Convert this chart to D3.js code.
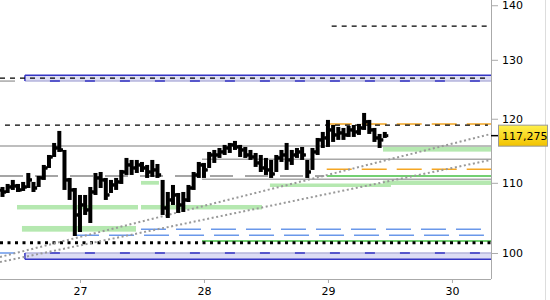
<!DOCTYPE html>
<html><head><meta charset="utf-8">
<script src="https://cdn.jsdelivr.net/npm/d3@7"></script>
<style>
body{margin:0;background:#fff}
text{font-family:"DejaVu Sans",sans-serif;font-size:11px;fill:#000}
</style>
</head><body>
<svg id="chart" width="550" height="300"></svg>
<script>
// hourly OHLC bars, first bar on the 26th at 09:00
const startHour = 26*24 + 9;
const highs = [109.38,109.83,110.43,109.83,110.13,111.48,110.13,111.03,112.70,114.24,
  116.12,118.03,115.02,110.73,109.23,108.20,108.20,109.38,111.48,111.63,
  110.73,110.43,110.73,111.94,113.78,113.47,113.47,113.16,112.70,113.47,
  112.85,110.43,108.64,109.68,108.49,108.64,109.68,111.63,113.16,113.01,
  114.71,115.02,115.33,115.81,116.12,116.44,115.81,115.49,115.02,114.55,
  114.24,113.78,113.47,114.24,115.02,116.12,115.02,115.33,115.49,113.47,
  115.33,116.91,117.87,119.81,118.99,118.67,118.51,118.83,118.99,119.16,
  120.95,119.81,118.51,117.55,117.87];
const lows = [107.91,108.49,108.94,108.64,108.79,109.23,108.64,109.38,110.43,112.24,
  113.93,114.71,108.94,107.47,102.34,102.89,105.30,104.16,108.20,109.23,
  107.47,108.49,108.94,109.83,111.18,111.18,111.48,111.63,110.73,110.88,
  110.73,105.30,104.87,106.74,105.59,105.73,107.17,108.94,110.73,110.73,
  112.24,113.01,113.78,114.24,114.55,115.02,113.93,113.78,113.47,112.40,
  111.63,111.18,110.73,111.63,113.16,111.94,112.70,113.78,113.47,110.73,
  111.94,114.24,115.33,115.49,116.28,116.60,116.60,117.07,117.07,117.39,
  118.19,117.55,116.28,115.33,116.91];
const closes = [108.64,109.38,109.53,108.94,109.38,110.43,109.23,110.73,112.24,113.93,
  115.33,115.02,110.43,108.94,105.30,106.74,106.02,108.64,110.73,110.43,
  108.20,109.68,110.13,111.63,112.70,112.24,112.70,112.24,111.63,111.94,
  111.18,106.31,107.47,108.20,106.74,107.47,109.23,111.18,112.70,111.94,
  114.24,114.24,114.71,115.33,115.81,115.49,115.02,114.24,113.93,113.01,
  112.24,111.94,111.33,113.78,114.24,113.47,114.24,114.71,114.24,111.63,
  114.71,116.60,116.91,118.19,117.39,117.71,117.39,118.19,117.87,118.51,
  119.50,118.19,116.91,116.60,117.275];
const firstOpen = 108.9;
const lastPrice = 117.275;

const yTicks = [100,110,120,130,140];
const xTicks = [27,28,29,30];
const xDomain = [26.355, 30.315];   // days of month
const yDomain = [96.53, 141.0];

// levels: [price, fromDay, toDay]
const blackDashed = [[126.8,26.355,30.29],[118.95,26.395,30.29],[136.1,29.03,30.29]];
const orangeDashed = [[119.15,28.99,30.315],[112.04,28.99,30.315]];
const graySolid = [[115.65,26.355,30.315],[113.58,27.984,30.315],[110.53,27.984,30.315],[126.3,26.355,26.476]];
const grayDashed = [[111.03,26.355,28.97]];
const greenLines = [[111.03,28.99,30.315],[101.64,27.984,30.315]];
const blueDashed = [[103.27,27.492,30.234],[102.43,26.952,30.258]];
const blueStub = [[100.0,26.355,26.476]];
const dottedBlack = [[101.41,26.355,30.315]];
// zones: [priceTop, priceBottom, fromDay, toDay]
const greenZones = [[106.74,106.09,26.492,27.468],[106.74,106.09,27.492,28.468],
  [110.28,109.72,27.492,27.637],[103.74,102.94,26.532,27.452],
  [109.90,109.38,28.532,29.508],[110.35,109.68,29.444,30.315],[115.54,114.76,29.444,30.315]];
const blueZones = [[127.3,126.3,26.556,30.315,"bottom"],[100.0,99.15,26.556,30.315,"top"]];
// trend lines: [day1, price1, day2, price2]
const trends = [[26.355,99.46,30.315,117.55],[26.355,98.78,30.315,113.48]];

const svg = d3.select("#chart");
const W = 491, H = 279;
const x = d3.scaleLinear().domain(xDomain).range([0, W]);
const y = d3.scaleLog().domain(yDomain).range([H, 0]);

const defs = svg.append("defs");
defs.append("clipPath").attr("id","plot").append("rect").attr("width",W).attr("height",H);
const grad = defs.append("linearGradient").attr("id","yel").attr("x1",0).attr("y1",0).attr("x2",0).attr("y2",1);
grad.append("stop").attr("offset","0%").attr("stop-color","#fff04a");
grad.append("stop").attr("offset","100%").attr("stop-color","#f2c200");

const g = svg.append("g").attr("clip-path","url(#plot)");

function hlines(data, stroke, width, dash){
  g.append("g").selectAll("line").data(data).join("line")
    .attr("x1",d=>x(d[1])).attr("x2",d=>x(d[2]))
    .attr("y1",d=>y(d[0])).attr("y2",d=>y(d[0]))
    .attr("stroke",stroke).attr("stroke-width",width)
    .attr("stroke-dasharray",dash||null);
}

// zones
g.append("g").selectAll("rect").data(greenZones).join("rect")
  .attr("x",d=>x(d[2])).attr("width",d=>x(d[3])-x(d[2]))
  .attr("y",d=>y(d[0])).attr("height",d=>y(d[1])-y(d[0]))
  .attr("fill","#b5e8b0");
blueZones.forEach(d=>{
  const x0=x(d[2]), x1=x(d[3]), yt=y(d[0]), yb=y(d[1]);
  g.append("rect").attr("x",x0).attr("y",yt).attr("width",x1-x0).attr("height",yb-yt).attr("fill","#dcdcf4");
  const soft = d[4]==="bottom" ? yb : yt, hard = d[4]==="bottom" ? yt : yb;
  g.append("line").attr("x1",x0).attr("x2",x1).attr("y1",hard).attr("y2",hard).attr("stroke","#3434c4").attr("stroke-width",1.5);
  g.append("line").attr("x1",x0).attr("x2",x1).attr("y1",soft).attr("y2",soft).attr("stroke","#b4b4dc").attr("stroke-width",1.5);
  g.append("line").attr("x1",x0).attr("x2",x1).attr("y1",soft).attr("y2",soft).attr("stroke","#3434c4").attr("stroke-width",1.5)
    .attr("stroke-dasharray","10,25").attr("stroke-dashoffset",10);
  g.append("line").attr("x1",x0).attr("x2",x0).attr("y1",yt).attr("y2",yb).attr("stroke","#3434c4").attr("stroke-width",1.5);
});

hlines(graySolid, "#a8a8a8", 1.5);
hlines(grayDashed, "#888", 1.5, "23,12");
hlines(greenLines, "#44c044", 1.5);
hlines(orangeDashed, "#f5a623", 1.5, "25,10");
hlines(blueDashed, "#6a98ea", 1.5, "25,10");
hlines(blueStub, "#6a98ea", 1.5);
hlines(dottedBlack, "#000", 3, "3,4.5");
hlines(blackDashed, "#000", 1.2, "5,5");

g.append("g").selectAll("line").data(trends).join("line")
  .attr("x1",d=>x(d[0])).attr("y1",d=>y(d[1])).attr("x2",d=>x(d[2])).attr("y2",d=>y(d[3]))
  .attr("stroke","#999").attr("stroke-width",2).attr("stroke-dasharray","2,2.6");

// price bars
const bars = closes.map((c,i)=>({t:(startHour+i)/24, h:highs[i], l:lows[i], o:i?closes[i-1]:firstOpen, c}));
const bg = g.append("g").attr("fill","#000");
bars.forEach(b=>{
  const cx = x(b.t), yh=y(b.h), yl=y(b.l);
  bg.append("rect").attr("x",cx-2).attr("width",4).attr("y",yh).attr("height",Math.max(1,yl-yh));
  bg.append("rect").attr("x",cx-3.5).attr("width",2).attr("y",y(b.o)-1.5).attr("height",3);
  bg.append("rect").attr("x",cx+1.5).attr("width",2).attr("y",y(b.c)-1.5).attr("height",3);
});

// axes frame
svg.append("line").attr("x1",W+0.5).attr("x2",W+0.5).attr("y1",0).attr("y2",H).attr("stroke","#aaa");
svg.append("line").attr("x1",0).attr("x2",W).attr("y1",H+0.5).attr("y2",H+0.5).attr("stroke","#aaa");
svg.append("line").attr("x1",545.5).attr("x2",545.5).attr("y1",0).attr("y2",300).attr("stroke","#ddd");

const yAxis = svg.append("g").attr("transform",`translate(${W},0)`)
  .call(d3.axisRight(y).tickValues(yTicks).tickFormat(d3.format("d")).tickSize(7).tickPadding(4));
yAxis.select(".domain").remove();
yAxis.selectAll(".tick line").attr("stroke","#aaa");
yAxis.selectAll("text").style("font-family",'"DejaVu Sans",sans-serif').style("font-size","11px");

const xAxis = svg.append("g").attr("transform",`translate(0,${H})`)
  .call(d3.axisBottom(x).tickValues(xTicks).tickFormat(d3.format("d")).tickSize(4).tickPadding(4));
xAxis.select(".domain").remove();
xAxis.selectAll(".tick line").attr("stroke","#aaa");
xAxis.selectAll("text").style("font-family",'"DejaVu Sans",sans-serif').style("font-size","11px");

// last price marker
const ly = y(lastPrice);
svg.append("line").attr("x1",W).attr("x2",W+7).attr("y1",ly).attr("y2",ly).attr("stroke","#000").attr("stroke-width",1.5);
svg.append("rect").attr("x",498.5).attr("y",ly-10.5).attr("width",49).attr("height",21)
  .attr("fill","url(#yel)").attr("stroke","#999");
svg.append("text").attr("x",502).attr("y",ly+4.5).text(d3.format(".3f")(lastPrice).replace(".",","));
</script>
</body></html>
